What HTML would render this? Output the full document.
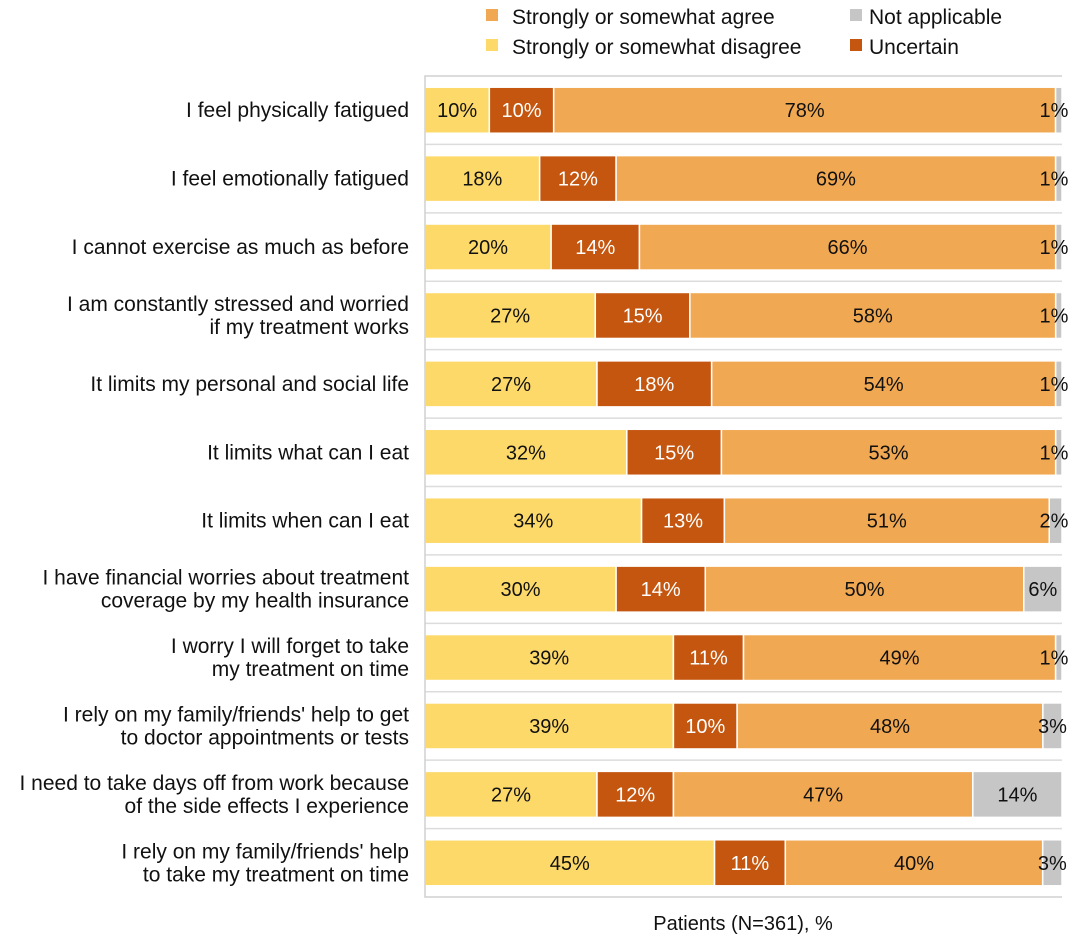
<!DOCTYPE html>
<html><head><meta charset="utf-8"><style>
body{margin:0;background:#fff;font-family:"Liberation Sans",Arial,sans-serif}
</style></head><body>
<svg id="chart" width="1082" height="942" xmlns="http://www.w3.org/2000/svg" font-family="Liberation Sans, Arial, sans-serif">
<g font-size="21" fill="#111">
<rect x="486" y="9" width="12" height="12" fill="#F1A852"/>
<text x="512" y="24">Strongly or somewhat agree</text>
<rect x="850" y="9" width="12" height="12" fill="#C6C6C6"/>
<text x="869" y="24">Not applicable</text>
<rect x="486" y="39" width="12" height="12" fill="#FDD96A"/>
<text x="512" y="54">Strongly or somewhat disagree</text>
<rect x="850" y="39" width="12" height="12" fill="#C4560F"/>
<text x="869" y="54">Uncertain</text>
</g>
<g id="plot"></g>
<text x="743" y="930" font-size="20" text-anchor="middle" fill="#111">Patients (N=361), %</text>
</svg>
<script>
const categories=[["I feel physically fatigued"],["I feel emotionally fatigued"],["I cannot exercise as much as before"],["I am constantly stressed and worried","if my treatment works"],["It limits my personal and social life"],["It limits what can I eat"],["It limits when can I eat"],["I have financial worries about treatment","coverage by my health insurance"],["I worry I will forget to take","my treatment on time"],["I rely on my family/friends' help to get","to doctor appointments or tests"],["I need to take days off from work because","of the side effects I experience"],["I rely on my family/friends' help","to take my treatment on time"]];
const disagree=[10,18,20,27,27,32,34,30,39,39,27,45];
const uncertain=[10,12,14,15,18,15,13,14,11,10,12,11];
const agree=[78,69,66,58,54,53,51,50,49,48,47,40];
const notApplicable=[1,1,1,1,1,1,2,6,1,3,14,3];
const ns="http://www.w3.org/2000/svg";
const g=document.getElementById('plot');
const X0=425,X1=1062,TOP=76,BOT=897;
const rowH=(BOT-TOP)/categories.length,barH=46;
function mk(t,a){const e=document.createElementNS(ns,t);for(const k in a)e.setAttribute(k,a[k]);g.appendChild(e);return e;}
for(let i=1;i<categories.length;i++){const l=mk('line',{x1:X0,x2:X1,y1:TOP+i*rowH,y2:TOP+i*rowH,stroke:'#dcdcdc','stroke-width':1.5});

}
const series=[["disagree",disagree,"#FDD96A","#111"],["uncertain",uncertain,"#C4560F","#fff"],["agree",agree,"#F1A852","#111"],["not-applicable",notApplicable,"#C6C6C6","#111"]];
categories.forEach((c,i)=>{
 const cy=TOP+(i+0.5)*rowH;
 const tot=series.reduce((s,x)=>s+x[1][i],0);
 const xs=v=>v/tot*(X1-X0);
 let x=X0;
 series.forEach(s=>{
  const w=xs(s[1][i]);
  const r=mk('rect',{x:x,y:cy-barH/2,width:w,height:barH,fill:s[2],stroke:'#fff','stroke-width':1.5});
  
  
  const tx=s[0]==='not-applicable'?Math.min(x+w/2,X1-8):x+w/2;
  const t=mk('text',{x:tx,y:cy+7,'font-size':20,'text-anchor':'middle',fill:s[3]});
  t.textContent=s[1][i]+'%';
  
  
  x+=w;
 });
 const lt=mk('text',{x:409,'font-size':21,'text-anchor':'end',fill:'#111'});
 
 
 const n=c.length;
 c.forEach((line,j)=>{const ts=document.createElementNS(ns,'tspan');ts.setAttribute('x',409);ts.setAttribute('y',cy+7+(j-(n-1)/2)*23);ts.textContent=line;lt.appendChild(ts);});
});
const fr=mk('path',{d:`M${X1} ${TOP}H${X0}V${BOT}H${X1}`,fill:'none',stroke:'#d0d0d0','stroke-width':1.5});


</script>
</body></html>
